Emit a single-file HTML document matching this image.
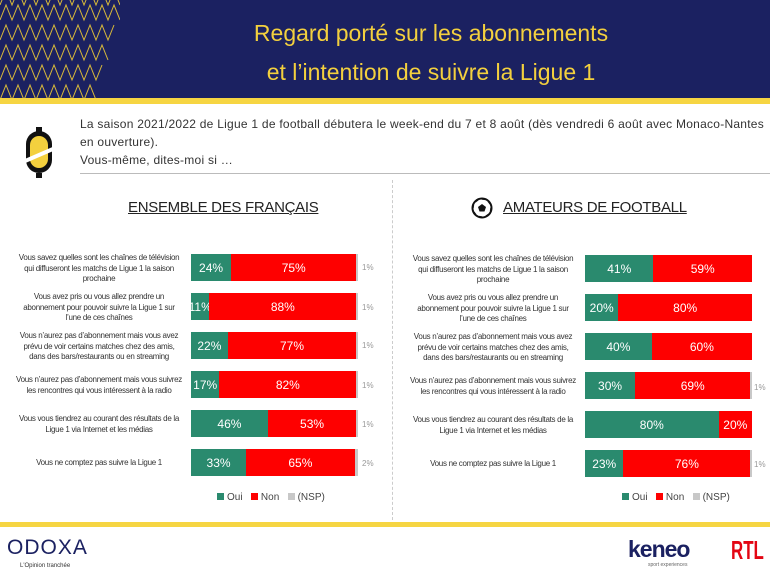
<!DOCTYPE html>
<html><head><meta charset="utf-8"><style>
*{margin:0;padding:0;box-sizing:border-box}
body{width:770px;height:576px;position:relative;background:#fff;font-family:"Liberation Sans",sans-serif;overflow:hidden}
.abs{position:absolute}
.hdr{left:0;top:0;width:770px;height:99px;background:#1b2161}
.yl{left:0;width:770px;background:#f6d542}
.title{left:131px;width:600px;top:14px;text-align:center;color:#f3d03e;font-size:23px;line-height:39px;white-space:nowrap}
.intro{left:80px;top:115px;font-size:12px;line-height:18px;color:#333;letter-spacing:0.25px;white-space:nowrap}
.lbl{font-size:8px;line-height:10.5px;color:#333;text-align:center;width:176px;letter-spacing:-0.3px;white-space:nowrap}
.bar{height:27px;display:flex;color:#fff;font-size:12px;align-items:center}
.bar div{height:100%;display:flex;align-items:center;justify-content:center}
.g{background:#2a8a6e}.r{background:#fe0000}.n{background:#c8c8c8}
.ns{font-size:8px;color:#999}
.leg{font-size:10px;color:#444}
.sq{display:inline-block;width:7px;height:7px;margin-right:3px}
</style></head><body>
<div class="abs hdr"></div>
<svg class="abs" style="left:0;top:0" width="120" height="99">
<g stroke="#d8b93a" stroke-width="1" fill="none">
<polyline points="0,20 6,5 12,20 18,5 24,20 30,5 36,20 42,5 48,20 54,5 60,20 66,5 72,20 78,5 84,20 90,5 96,20 102,5 108,20 114,5 120,20"/>
<polyline points="0,40 6,25 12,40 18,25 24,40 30,25 36,40 42,25 48,40 54,25 60,40 66,25 72,40 78,25 84,40 90,25 96,40 102,25 108,40 114,25"/>
<polyline points="0,60 6,45 12,60 18,45 24,60 30,45 36,60 42,45 48,60 54,45 60,60 66,45 72,60 78,45 84,60 90,45 96,60 102,45 108,60"/>
<polyline points="0,80 6,65 12,80 18,65 24,80 30,65 36,80 42,65 48,80 54,65 60,80 66,65 72,80 78,65 84,80 90,65 96,80 102,65"/>
<polyline points="0,100 6,85 12,100 18,85 24,100 30,85 36,100 42,85 48,100 54,85 60,100 66,85 72,100 78,85 84,100 90,85 96,100"/>
<polyline points="0,5 6,-10 12,5 18,-10 24,5 30,-10 36,5 42,-10 48,5 54,-10 60,5 66,-10 72,5 78,-10 84,5 90,-10 96,5 102,-10 108,5 114,-10 120,5"/>
</g></svg>
<div class="abs title">Regard porté sur les abonnements<br>et l’intention de suivre la Ligue 1</div>
<div class="abs yl" style="top:98px;height:6px"></div>
<svg class="abs" style="left:25px;top:127px" width="28" height="52"><rect x="1" y="4" width="26" height="42" rx="13" fill="#111"/><rect x="5" y="9" width="18" height="32" rx="9" fill="#f3d03e"/><line x1="0" y1="34" x2="28" y2="22" stroke="#fff" stroke-width="4"/><rect x="11" y="0" width="6" height="5" fill="#111"/><rect x="11" y="46" width="6" height="5" fill="#111"/></svg>
<div class="abs intro">La saison 2021/2022 de Ligue 1 de football débutera le week-end du 7 et 8 août (dès vendredi 6 août avec Monaco-Nantes<br>en ouverture).<br>Vous-même, dites-moi si …</div>
<div class="abs" style="left:80px;top:173px;width:690px;height:1px;background:#bbb"></div>
<div class="abs" style="left:392px;top:180px;height:340px;border-left:1px dashed #ccc"></div>
<div class="abs" style="left:128px;top:199px;font-size:15px;color:#222;text-decoration:underline;letter-spacing:-0.3px">ENSEMBLE DES FRANÇAIS</div>
<svg class="abs" style="left:471px;top:197px" width="22" height="22"><circle cx="11" cy="11" r="9.5" fill="#fff" stroke="#111" stroke-width="2"/><polygon points="11,7 15,10 13.5,14.5 8.5,14.5 7,10" fill="#111"/><circle cx="11" cy="11" r="9" fill="none" stroke="#111" stroke-width="1.5" stroke-dasharray="3 4"/></svg>
<div class="abs" style="left:503px;top:199px;font-size:15px;color:#222;text-decoration:underline;letter-spacing:-0.3px">AMATEURS DE FOOTBALL</div>

<div class="abs lbl" style="left:11px;top:253px">Vous savez quelles sont les chaînes de télévision<br>qui diffuseront les matchs de Ligue 1 la saison<br>prochaine</div>
<div class="abs lbl" style="left:11px;top:292px">Vous avez pris ou vous allez prendre un<br>abonnement pour pouvoir suivre la Ligue 1 sur<br>l’une de ces chaînes</div>
<div class="abs lbl" style="left:11px;top:331px">Vous n’aurez pas d’abonnement mais vous avez<br>prévu de voir certains matches chez des amis,<br>dans des bars/restaurants ou en streaming</div>
<div class="abs lbl" style="left:11px;top:375px">Vous n’aurez pas d’abonnement mais vous suivrez<br>les rencontres qui vous intéressent à la radio</div>
<div class="abs lbl" style="left:11px;top:414px">Vous vous tiendrez au courant des résultats de la<br>Ligue 1 via Internet et les médias</div>
<div class="abs lbl" style="left:11px;top:458px">Vous ne comptez pas suivre la Ligue 1</div>

<div class="abs bar" style="left:191px;top:254px;width:167px"><div class="g" style="width:24%">24%</div><div class="r" style="width:75%">75%</div><div class="n" style="width:1%"></div></div>
<div class="abs bar" style="left:191px;top:293px;width:167px"><div class="g" style="width:11%">11%</div><div class="r" style="width:88%">88%</div><div class="n" style="width:1%"></div></div>
<div class="abs bar" style="left:191px;top:332px;width:167px"><div class="g" style="width:22%">22%</div><div class="r" style="width:77%">77%</div><div class="n" style="width:1%"></div></div>
<div class="abs bar" style="left:191px;top:371px;width:167px"><div class="g" style="width:17%">17%</div><div class="r" style="width:82%">82%</div><div class="n" style="width:1%"></div></div>
<div class="abs bar" style="left:191px;top:410px;width:167px"><div class="g" style="width:46%">46%</div><div class="r" style="width:53%">53%</div><div class="n" style="width:1%"></div></div>
<div class="abs bar" style="left:191px;top:449px;width:167px"><div class="g" style="width:33%">33%</div><div class="r" style="width:65%">65%</div><div class="n" style="width:2%"></div></div>
<div class="abs ns" style="left:362px;top:263px">1%</div>
<div class="abs ns" style="left:362px;top:303px">1%</div>
<div class="abs ns" style="left:362px;top:341px">1%</div>
<div class="abs ns" style="left:362px;top:381px">1%</div>
<div class="abs ns" style="left:362px;top:420px">1%</div>
<div class="abs ns" style="left:362px;top:459px">2%</div>

<div class="abs lbl" style="left:405px;top:254px">Vous savez quelles sont les chaînes de télévision<br>qui diffuseront les matchs de Ligue 1 la saison<br>prochaine</div>
<div class="abs lbl" style="left:405px;top:293px">Vous avez pris ou vous allez prendre un<br>abonnement pour pouvoir suivre la Ligue 1 sur<br>l’une de ces chaînes</div>
<div class="abs lbl" style="left:405px;top:332px">Vous n’aurez pas d’abonnement mais vous avez<br>prévu de voir certains matches chez des amis,<br>dans des bars/restaurants ou en streaming</div>
<div class="abs lbl" style="left:405px;top:376px">Vous n’aurez pas d’abonnement mais vous suivrez<br>les rencontres qui vous intéressent à la radio</div>
<div class="abs lbl" style="left:405px;top:415px">Vous vous tiendrez au courant des résultats de la<br>Ligue 1 via Internet et les médias</div>
<div class="abs lbl" style="left:405px;top:459px">Vous ne comptez pas suivre la Ligue 1</div>

<div class="abs bar" style="left:585px;top:255px;width:167px"><div class="g" style="width:41%">41%</div><div class="r" style="width:59%">59%</div></div>
<div class="abs bar" style="left:585px;top:294px;width:167px"><div class="g" style="width:20%">20%</div><div class="r" style="width:80%">80%</div></div>
<div class="abs bar" style="left:585px;top:333px;width:167px"><div class="g" style="width:40%">40%</div><div class="r" style="width:60%">60%</div></div>
<div class="abs bar" style="left:585px;top:372px;width:167px"><div class="g" style="width:30%">30%</div><div class="r" style="width:69%">69%</div><div class="n" style="width:1%"></div></div>
<div class="abs bar" style="left:585px;top:411px;width:167px"><div class="g" style="width:80%">80%</div><div class="r" style="width:20%">20%</div></div>
<div class="abs bar" style="left:585px;top:450px;width:167px"><div class="g" style="width:23%">23%</div><div class="r" style="width:76%">76%</div><div class="n" style="width:1%"></div></div>
<div class="abs ns" style="left:754px;top:383px">1%</div>
<div class="abs ns" style="left:754px;top:460px">1%</div>

<div class="abs leg" style="left:217px;top:492px"><span class="sq g"></span>Oui&nbsp;&nbsp;&nbsp;<span class="sq r"></span>Non&nbsp;&nbsp;&nbsp;<span class="sq n"></span>(NSP)</div>
<div class="abs leg" style="left:622px;top:492px"><span class="sq g"></span>Oui&nbsp;&nbsp;&nbsp;<span class="sq r"></span>Non&nbsp;&nbsp;&nbsp;<span class="sq n"></span>(NSP)</div>

<div class="abs yl" style="top:522px;height:5px"></div>
<div class="abs" style="left:7px;top:536px;font-size:21px;color:#1b2161;letter-spacing:1px">ODOXA</div>
<div class="abs" style="left:20px;top:563px;font-size:6px;color:#333">L'Opinion tranchée</div>
<div class="abs" style="left:628px;top:536px;font-size:23px;color:#1b2161;font-weight:bold;letter-spacing:-1px">keneo</div>
<div class="abs" style="left:648px;top:562px;font-size:5px;color:#666">sport experiences</div>
<div class="abs" style="left:731px;top:535px;font-size:26px;color:#e30613;font-weight:bold;transform:scaleX(0.65);transform-origin:left;line-height:30px">RTL</div>
</body></html>
